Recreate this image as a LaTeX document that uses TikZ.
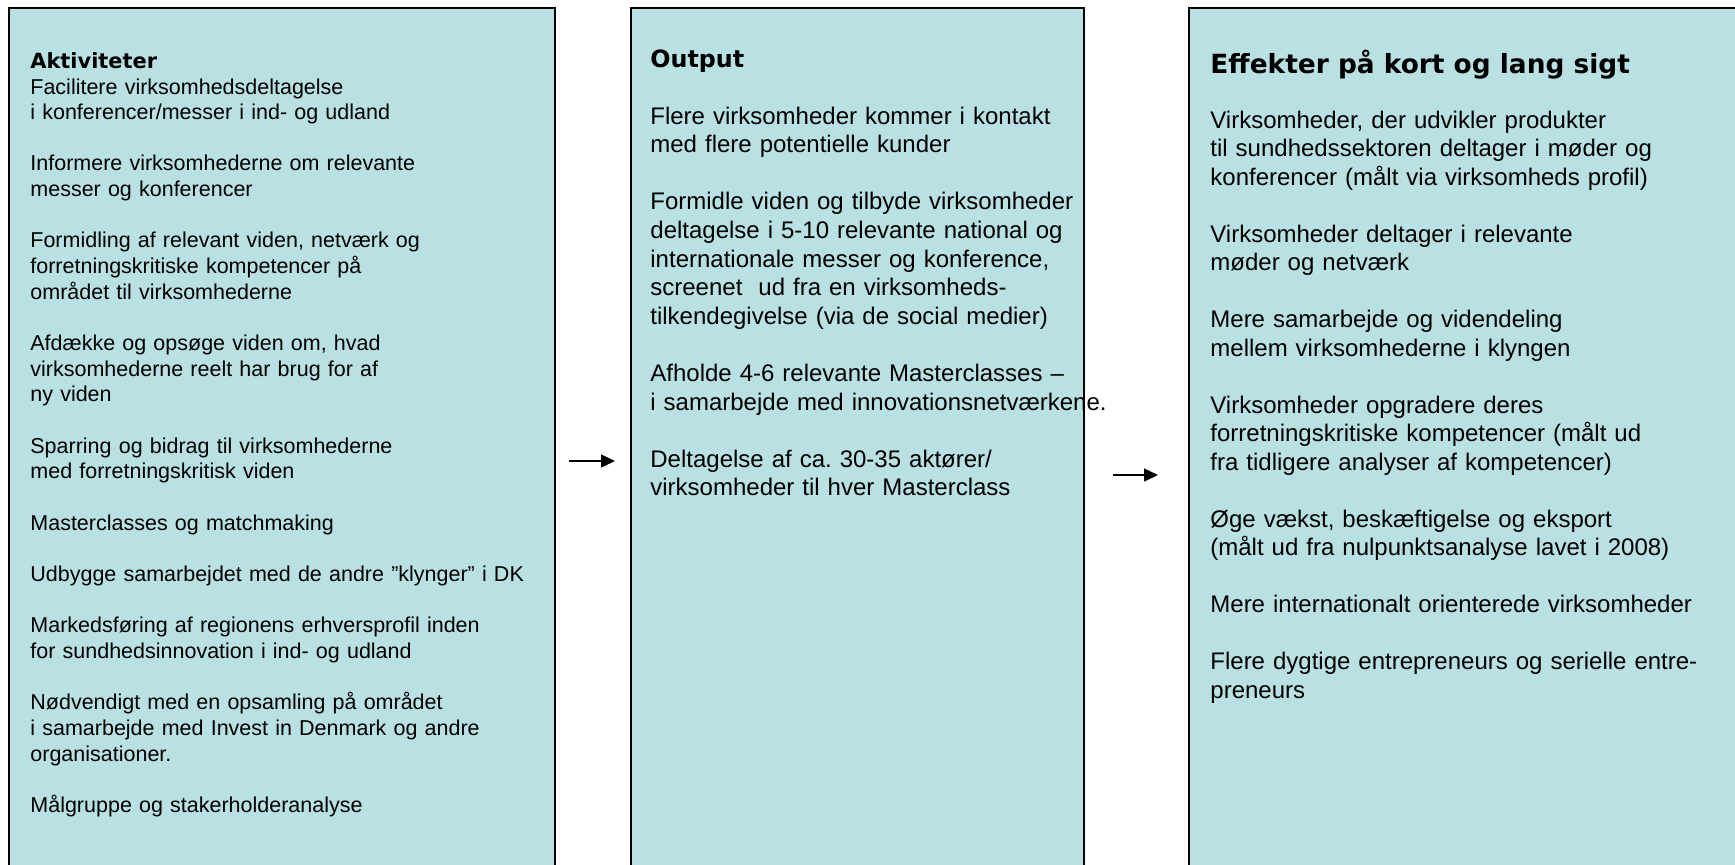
\documentclass[tikz,border=0pt]{standalone}
\usepackage{fontspec}
\setmainfont{Liberation Sans}
\newfontfamily\headfont{DejaVu Sans}
\usetikzlibrary{arrows.meta}
\definecolor{panelblue}{RGB}{185,224,227}
\newcommand{\gapline}{\\[\baselineskip]}
\frenchspacing

\begin{document}
\begin{tikzpicture}[x=0.5pt,y=-0.5pt,
  panel/.style={draw=black, line width=0.75pt, fill=panelblue, rectangle, anchor=north west, inner sep=0pt},
  head/.style={anchor=base west, inner sep=0pt, font=\headfont\bfseries\fontsize{#1}{#1}\selectfont},
  body/.style={anchor=base west, inner sep=0pt, align=left, text width=300pt},
  flow/.style={-{Triangle[length=7pt,width=6.5pt]}, line width=0.7pt}]
\useasboundingbox (0,0) rectangle (1735,864);
\clip (0,0) rectangle (1735,864);

% the three panels
\node[panel, minimum width=273pt, minimum height=450pt] (act) at (8,7) {};
\node[panel, minimum width=226.5pt, minimum height=450pt] (out) at (630,7) {};
\node[panel, minimum width=290pt, minimum height=450pt] (eff) at (1188,7) {};

% Aktiviteter
\node[head=10.45pt] (acthead) at (30,68) {Aktiviteter};
\node[body, text width=260pt, font=\fontsize{10.75pt}{12.83pt}\selectfont] (acttext) at (30,94) {%
Facilitere virksomhedsdeltagelse\\
i konferencer/messer i ind- og udland\gapline
Informere virksomhederne om relevante\\
messer og konferencer\gapline
Formidling af relevant viden, netværk og\\
forretningskritiske kompetencer på\\
området til virksomhederne\gapline
Afdække og opsøge viden om, hvad\\
virksomhederne reelt har brug for af\\
ny viden\gapline
Sparring og bidrag til virksomhederne\\
med forretningskritisk viden\gapline
Masterclasses og matchmaking\gapline
Udbygge samarbejdet med de andre ”klynger” i DK\gapline
Markedsføring af regionens erhversprofil inden\\
for sundhedsinnovation i ind- og udland\gapline
Nødvendigt med en opsamling på området\\
i samarbejde med Invest in Denmark og andre\\
organisationer.\gapline
Målgruppe og stakerholderanalyse};

% Output
\node[head=11.9pt] (outhead) at (650,67) {Output};
\node[body, font=\fontsize{12pt}{14.3pt}\selectfont] (outtext) at (650,124) {%
Flere virksomheder kommer i kontakt\\
med flere potentielle kunder\gapline
Formidle viden og tilbyde virksomheder\\
deltagelse i 5-10 relevante national og\\
internationale messer og konference,\\
screenet\ \ ud fra en virksomheds-\\
tilkendegivelse (via de social medier)\gapline
Afholde 4-6 relevante Masterclasses –\\
i samarbejde med innovationsnetværkene.\gapline
Deltagelse af ca. 30-35 aktører/\\
virksomheder til hver Masterclass};

% Effekter
\node[head=13.2pt] (effhead) at (1210,73) {Effekter på kort og lang sigt};
\node[body, font=\fontsize{12pt}{14.25pt}\selectfont] (efftext) at (1210,128) {%
Virksomheder, der udvikler produkter\\
til sundhedssektoren deltager i møder og\\
konferencer (målt via virksomheds profil)\gapline
Virksomheder deltager i relevante\\
møder og netværk\gapline
Mere samarbejde og videndeling\\
mellem virksomhederne i klyngen\gapline
Virksomheder opgradere deres\\
forretningskritiske kompetencer (målt ud\\
fra tidligere analyser af kompetencer)\gapline
Øge vækst, beskæftigelse og eksport\\
(målt ud fra nulpunktsanalyse lavet i 2008)\gapline
Mere internationalt orienterede virksomheder\gapline
Flere dygtige entrepreneurs og serielle entre-\\
preneurs};

% arrows between the panels
\coordinate (a1s) at (569,461);
\coordinate (a1e) at (615,461);
\coordinate (a2s) at (1113,475);
\coordinate (a2e) at (1158,475);
\draw[flow] (a1s) -- (a1e);
\draw[flow] (a2s) -- (a2e);
\end{tikzpicture}
\end{document}
